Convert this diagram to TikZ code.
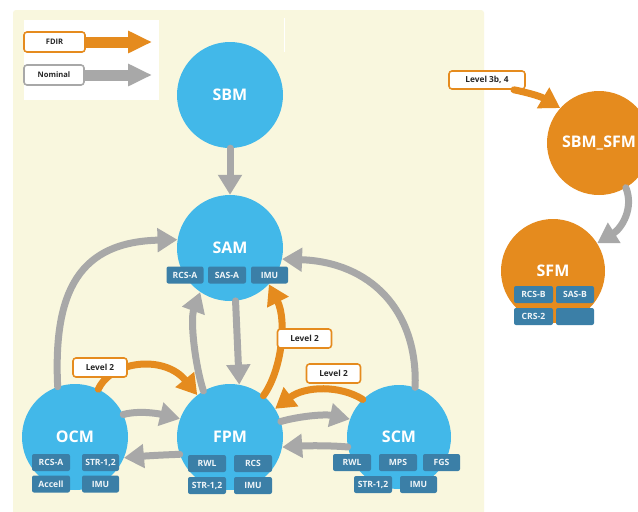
\documentclass[tikz,border=0pt]{standalone}
\usepackage{fontspec}
\setmainfont{Open Sans}
\usetikzlibrary{arrows.meta}
\definecolor{panel}{HTML}{F9F7DE}
\definecolor{cblue}{HTML}{42B8E9}
\definecolor{cchip}{HTML}{3B7FA7}
\definecolor{corange}{HTML}{E58B1E}
\definecolor{cgray}{HTML}{A8A8A8}
\begin{document}
\begin{tikzpicture}[x=1pt,y=-1pt,
 mode/.style={circle, fill=cblue, minimum size=106pt, inner sep=0pt, text=white, font=\fontsize{16}{16}\selectfont\bfseries},
 safe/.style={mode, fill=corange, minimum size=104pt},
 chip/.style={fill=cchip, rounded corners=2pt, minimum width=38pt, minimum height=17pt, inner sep=0pt, text=white!92!cchip, font=\fontsize{8.6}{8.6}\selectfont\bfseries},
 lvl/.style={draw=corange, line width=1.6pt, fill=white, rounded corners=3pt, minimum width=54pt, minimum height=19pt, inner sep=0pt, font=\fontsize{8.3}{8.3}\selectfont\bfseries, text=black!85},
 nom/.style={draw=cgray, line width=7pt, line cap=round, -{Triangle[length=20pt,width=23pt]}},
 fdir/.style={draw=corange, line width=7pt, line cap=round, -{Triangle[length=20pt,width=23pt]}},
]
\useasboundingbox (0,0) rectangle (638,512);
\clip (0,0) rectangle (638,512);
\fill[white] (0,0) rectangle (638,512);
% panel
\fill[panel, rounded corners=3pt] (13,10) rectangle (484,530);
\draw[white, line width=1pt] (284,18) -- (284,52);
% legend
\fill[white] (24,20) rectangle (159,100);
\node[lvl, minimum width=61pt, minimum height=20pt, font=\fontsize{7.6}{7.6}\selectfont\bfseries] (lgF) at (54.5,42) {FDIR};
\node[lvl, draw=cgray, minimum width=60pt, minimum height=20pt, font=\fontsize{7.6}{7.6}\selectfont\bfseries] (lgN) at (54,75) {Nominal};
\coordinate (lgFt) at (152,42);
\coordinate (lgNt) at (152,75);
\draw[draw=corange, line width=11pt, -{Triangle[length=24pt,width=21pt]}] (lgF.east) -- (lgFt);
\draw[draw=cgray, line width=11pt, -{Triangle[length=24pt,width=21pt]}] (lgN.east) -- (lgNt);
% modes
\node[mode] (SBM) at (230,95) {SBM};
\node[mode] (SAM) at (230,248) {SAM};
\node[mode] (FPM) at (230,437) {FPM};
\node[mode] (OCM) at (75,437) {OCM};
\node[mode, minimum size=104pt] (SCM) at (399,437) {SCM};
\node[safe] (SBMSFM) at (599,143) {SBM\_SFM};
\node[safe] (SFM) at (553,271) {SFM};
% nominal transitions
\draw[nom] (SBM) -- (SAM);
\draw[nom] (OCM.109) .. controls (53,290) and (80,242) .. (SAM.171);
\draw[nom] (FPM.120) .. controls (195,365) and (190,320) .. (SAM.236);
\draw[nom] (SAM.-84) -- (FPM.80);
\draw[nom] (SCM.72) .. controls (418,310) and (370,262) .. (SAM.-12);
\draw[nom] (FPM.17) .. controls (300,416) and (325,414) .. (SCM.160);
\draw[nom] (SCM.191) .. controls (325,445) and (300,446) .. (FPM.-11);
\draw[nom] (OCM.25) .. controls (140,410) and (160,414) .. (FPM.160);
\draw[nom] (FPM.199) .. controls (160,455) and (145,456) .. (OCM.-23);
\draw[nom] (SBMSFM.-59) .. controls (634,208) and (622,228) .. (SFM.32);
% FDIR transitions
\draw[fdir] (OCM.64) .. controls (112,360) and (165,355) .. (FPM.128);
\draw[fdir] (FPM.51) .. controls (282,370) and (287,320) .. (SAM.-43);
\draw[fdir] (SCM.134) .. controls (340,385) and (305,386) .. (FPM.32);
\node[lvl, minimum width=76pt, minimum height=18pt] (L4) at (487,80) {Level 3b, 4};
\draw[fdir] (L4.-20) .. controls (525,92) and (540,96) .. (SBMSFM.138);
% labels
\node[lvl] (L1) at (100,367.5) {Level 2};
\node[lvl] (L2) at (304.5,338.5) {Level 2};
\node[lvl] (L3) at (333.5,373.5) {Level 2};
% chips
\node[chip, minimum width=37pt] (samA) at (185,275) {RCS-A};
\node[chip, minimum width=38pt] (samB) at (227,275) {SAS-A};
\node[chip, minimum width=37pt] (samC) at (269.5,275) {IMU};
\node[chip] (ocmA) at (51,462.5) {RCS-A};
\node[chip, minimum width=37pt] (ocmB) at (100.5,462.5) {STR-1,2};
\node[chip] (ocmC) at (51,484) {Accell};
\node[chip, minimum width=37pt] (ocmD) at (100.5,484) {IMU};
\node[chip] (fpmA) at (207,463.5) {RWL};
\node[chip] (fpmB) at (253,463.5) {RCS};
\node[chip] (fpmC) at (207,485.5) {STR-1,2};
\node[chip] (fpmD) at (253,485.5) {IMU};
\node[chip] (scmA) at (352,462.5) {RWL};
\node[chip] (scmB) at (398,462.5) {MPS};
\node[chip, minimum width=37pt] (scmC) at (441.5,462.5) {FGS};
\node[chip] (scmD) at (373,484.5) {STR-1,2};
\node[chip, minimum width=37pt] (scmE) at (418.5,484.5) {IMU};
\node[chip, minimum width=39pt] (sfmA) at (533.5,294.5) {RCS-B};
\node[chip] (sfmB) at (575,294.5) {SAS-B};
\node[chip, minimum width=39pt] (sfmC) at (533.5,316.5) {CRS-2};
\node[chip] (sfmD) at (575,316.5) {};
\end{tikzpicture}
\end{document}
